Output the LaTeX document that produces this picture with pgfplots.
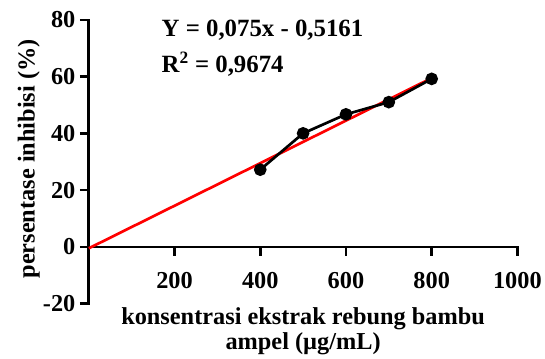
\documentclass[border=0pt]{standalone}
\usepackage{fontspec}
\setmainfont{Liberation Serif}
\usepackage{pgfplots}
\pgfplotsset{compat=1.18}
\begin{document}
\begin{tikzpicture}
\begin{axis}[
  scale only axis,
  width=432bp, height=286bp,
  axis lines=middle,
  axis line style={-, line width=2.7bp, line cap=rect},
  xmin=0, xmax=1000, ymin=-20, ymax=80,
  xtick={200,400,...,1000},
  ytick={-20,0,...,80},
  hide obscured x ticks=false,
  hide obscured y ticks=false,
  tick align=outside,
  major tick length=9bp,
  tick style={line width=2.7bp, black},
  /pgf/number format/assume math mode=true,
  /pgf/number format/1000 sep={},
  ticklabel style={font=\fontsize{24.5bp}{27bp}\selectfont\bfseries},
  xticklabel style={yshift=-13bp},
  yticklabel style={xshift=-1bp},
  xlabel={konsentrasi ekstrak rebung bambu\\ampel (µg/mL)},
  xlabel style={at={(rel axis cs:0.5,0)}, anchor=north, align=center,
    font=\fontsize{24.5bp}{25bp}\selectfont\bfseries, yshift=-1bp},
  ylabel={persentase inhibisi (\%)},
  ylabel style={at={(rel axis cs:-0.14,0.51)}, anchor=center, rotate=90,
    font=\fontsize{24.5bp}{27bp}\selectfont\bfseries},
  clip=false,
]
\addplot[red, line width=2.7bp] coordinates {(0,-0.5161) (800,59.4839)};
\addplot[black, line width=2.7bp, mark=*, mark size=5bp] coordinates {
  (400,27.2) (500,40.0) (600,46.7) (700,51.0) (800,59.2)};
\node[anchor=west, font=\fontsize{25bp}{27bp}\selectfont\bfseries] at (axis cs:162,76.5) {Y = 0,075x - 0,5161};
\node[anchor=west, font=\fontsize{25bp}{27bp}\selectfont\bfseries] at (axis cs:162,64.5) {R\textsuperscript{2} = 0,9674};
\end{axis}
\path[use as bounding box] (current axis.south west) ++(-89.5bp,-48bp) rectangle ++(545bp,354bp);
\end{tikzpicture}
\end{document}
